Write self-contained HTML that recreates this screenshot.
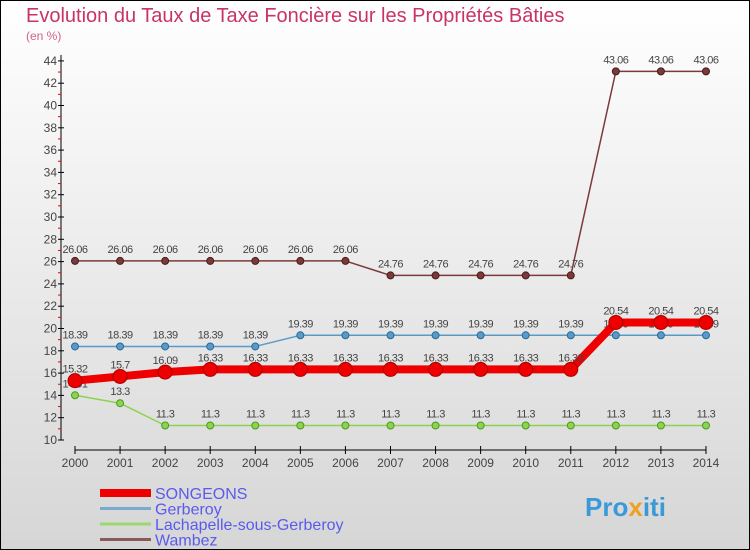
<!DOCTYPE html>
<html><head><meta charset="utf-8"><style>
body{margin:0}
svg{display:block;font-family:"Liberation Sans",sans-serif}
</style></head><body>
<svg id="c" width="750" height="550" xmlns="http://www.w3.org/2000/svg">
<defs><linearGradient id="bg" x1="0" y1="0" x2="0" y2="1"><stop offset="0" stop-color="#ffffff"/><stop offset="1" stop-color="#d6d6d6"/></linearGradient></defs>
<rect x="0.5" y="0.5" width="749" height="549" fill="url(#bg)" stroke="#000"/>
<text x="26" y="22" font-size="20" fill="#c8336a">Evolution du Taux de Taxe Foncière sur les Propriétés Bâties</text>
<text x="26" y="40" font-size="12" fill="#d0608a">(en %)</text>
<g id="axes"></g><g id="series"></g><g id="legend"></g>
<text x="585" y="516" font-size="26" font-weight="bold" fill="#3a9ad9">Pro<tspan fill="#f0a020">x</tspan>iti</text>
</svg>
<script>
const years=[2000,2001,2002,2003,2004,2005,2006,2007,2008,2009,2010,2011,2012,2013,2014];
const songeons=[15.32,15.7,16.09,16.33,16.33,16.33,16.33,16.33,16.33,16.33,16.33,16.33,20.54,20.54,20.54];
const gerberoy=[18.39,18.39,18.39,18.39,18.39,19.39,19.39,19.39,19.39,19.39,19.39,19.39,19.39,19.39,19.39];
const lachapelle=[14.01,13.3,11.3,11.3,11.3,11.3,11.3,11.3,11.3,11.3,11.3,11.3,11.3,11.3,11.3];
const wambez=[26.06,26.06,26.06,26.06,26.06,26.06,26.06,24.76,24.76,24.76,24.76,24.76,43.06,43.06,43.06];
const yTicks=[10,12,14,16,18,20,22,24,26,28,30,32,34,36,38,40,42,44];
const NS="http://www.w3.org/2000/svg";
const X=i=>75+i*45.07, Y=v=>440-(v-10)*11.15;
function mk(t,a,p){const e=document.createElementNS(NS,t);for(const k in a)e.setAttribute(k,a[k]);p.appendChild(e);return e;}
const ax=document.getElementById('axes');
let yl=mk('line',{x1:61,y1:55,x2:61,y2:440,stroke:'#000'},ax);


let xl=mk('line',{x1:75,y1:450,x2:706,y2:450,stroke:'#000'},ax);


yTicks.forEach(v=>{mk('line',{x1:58,y1:Y(v),x2:64,y2:Y(v),stroke:'#000'},ax);
 if(v<44)mk('line',{x1:58,y1:Y(v+1),x2:61,y2:Y(v+1),stroke:'#e00'},ax);
 const t=mk('text',{x:57,y:Y(v)+4,'text-anchor':'end','font-size':12,fill:'#444'},ax);t.textContent=v;
 
 });
years.forEach((y,i)=>{mk('line',{x1:X(i),y1:446,x2:X(i),y2:454,stroke:'#000'},ax);
 const t=mk('text',{x:X(i),y:467,'text-anchor':'middle','font-size':12,fill:'#444'},ax);t.textContent=y;
 
 });
const sg=document.getElementById('series');
function series(data,color,w,r,name,dark){
 const g=mk('g',{},sg);
 
 
 mk('polyline',{points:data.map((v,i)=>X(i)+','+Y(v)).join(' '),fill:'none',stroke:color,'stroke-width':w,'stroke-linejoin':'round'},g);
 data.forEach((v,i)=>{const c=mk('circle',{cx:X(i),cy:Y(v),r:r,fill:color,stroke:dark,'stroke-width':1},g);
  
  
  const t=mk('text',{x:X(i),y:Y(v)-8,'text-anchor':'middle','font-size':11,fill:'#444','letter-spacing':'-0.5'},g);t.textContent=v;
  
  });
}
series(wambez,'#7a3a3a',1.5,3.5,'wambez','#4a1a1a');
series(gerberoy,'#5a9ac8',1.5,3.5,'gerberoy','#2a6a98');
series(lachapelle,'#8cd450',1.5,3.5,'lachapelle','#4a9a20');
series(songeons,'#ee0000',8,7,'songeons','#aa0000');
const lg=document.getElementById('legend');
[['SONGEONS','#ee0000',8],['Gerberoy','#7aaad0',3],['Lachapelle-sous-Gerberoy','#9cd870',3],['Wambez','#8a5a5a',3]].forEach((d,i)=>{
 const y=493+i*15.5;
 const g=mk('g',{},lg);
 
 
 mk('line',{x1:100,y1:y,x2:151,y2:y,stroke:d[1],'stroke-width':d[2]},g);
 const t=mk('text',{x:155,y:y+6,'font-size':16,fill:'#5a5aee'},g);t.textContent=d[0];
});
</script>
</body></html>
